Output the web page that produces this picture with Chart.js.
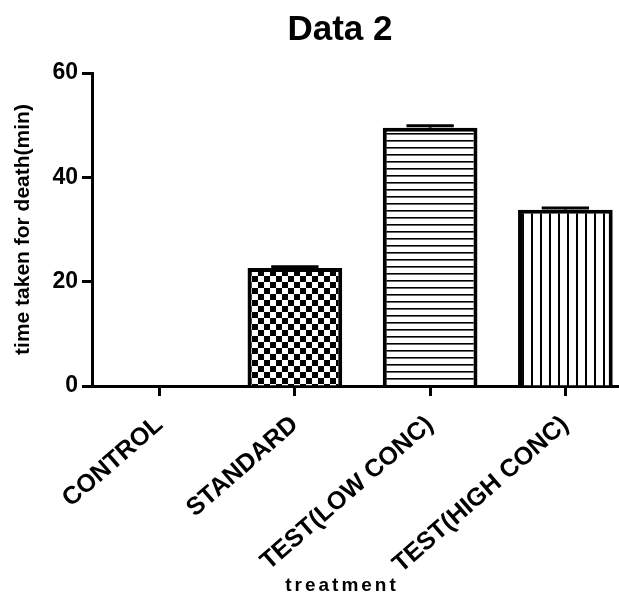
<!DOCTYPE html>
<html>
<head>
<meta charset="utf-8">
<script src="https://cdn.jsdelivr.net/npm/chart.js@4.4.1/dist/chart.umd.min.js"></script>
<style>
  html, body { margin: 0; padding: 0; background: #fff; overflow: hidden; }
  /* the plot runs past the right edge in the original, so the canvas is wider than the frame */
  #wrap { width: 619px; height: 600px; overflow: hidden; }
</style>
</head>
<body>
<div id="wrap"><canvas id="bar-chart" width="633" height="600"></canvas></div>
<script>
// values
var categories = ["CONTROL", "STANDARD", "TEST(LOW CONC)", "TEST(HIGH CONC)"];
var timeToDeath = [0, 22.6, 49.5, 33.8];
var errors = [0, 0.25, 0.4, 0.3];
var yTicks = [0, 20, 40, 60];
var chartTitle = "Data 2";
var xTitle = "treatment";
var yTitle = "time taken for death(min)";

var FONT = '"Liberation Sans", Arial, sans-serif';

function makePattern(kind) {
  var c = document.createElement('canvas');
  var g = c.getContext('2d');
  if (kind == 'check') {
    c.width = 12; c.height = 12;
    g.fillStyle = '#fff'; g.fillRect(0, 0, 12, 12);
    g.fillStyle = '#000'; g.fillRect(0, 0, 6, 6); g.fillRect(6, 6, 6, 6);
  } else if (kind == 'hlines') {
    c.width = 4; c.height = 7;
    g.fillStyle = '#fff'; g.fillRect(0, 0, 4, 7);
    g.fillStyle = '#000'; g.fillRect(0, 0, 4, 1.6);
  } else {
    c.width = 9; c.height = 4;
    g.fillStyle = '#fff'; g.fillRect(0, 0, 9, 4);
    g.fillStyle = '#000'; g.fillRect(0, 0, 2, 4);
  }
  return g.createPattern(c, 'repeat');
}

var fills = ['#fff', makePattern('check'), makePattern('hlines'), makePattern('vlines')];

// error bars, upper half only, with a cap
var errorBars = {
  id: 'errorBars',
  afterDatasetsDraw: function(chart) {
    var ctx = chart.ctx;
    var y = chart.scales.y;
    var meta = chart.getDatasetMeta(0);
    ctx.save();
    ctx.strokeStyle = '#000';
    ctx.lineWidth = 3;
    meta.data.forEach(function(bar, i) {
      if (!errors[i]) return;
      var top = y.getPixelForValue(timeToDeath[i] + errors[i]);
      var half = bar.width * 0.25;
      ctx.beginPath();
      ctx.moveTo(bar.x, bar.y);
      ctx.lineTo(bar.x, top);
      ctx.moveTo(bar.x - half, top);
      ctx.lineTo(bar.x + half, top);
      ctx.stroke();
    });
    ctx.restore();
  }
};

// chart title and x title (centred like the original, with wide letter spacing)
var titles = {
  id: 'titles',
  afterDraw: function(chart) {
    var ctx = chart.ctx;
    ctx.save();
    ctx.fillStyle = '#000';
    ctx.textAlign = 'center';
    ctx.textBaseline = 'alphabetic';
    ctx.font = 'bold 35px ' + FONT;
    ctx.fillText(chartTitle, 340, 40);
    ctx.font = 'bold 19px ' + FONT;
    if ('letterSpacing' in ctx) ctx.letterSpacing = '3px';
    ctx.fillText(xTitle, 342, 591);
    ctx.restore();
  }
};

new Chart(document.getElementById("bar-chart"), {
  type: 'bar',
  data: {
    labels: categories,
    datasets: [{
      data: timeToDeath,
      backgroundColor: fills,
      borderColor: '#000',
      borderWidth: 4,
      borderSkipped: 'start',
      categoryPercentage: 1.0,
      barPercentage: 0.7
    }]
  },
  options: {
    responsive: false,
    animation: false,
    layout: { padding: { top: 73, right: 0, left: 0, bottom: 0 } },
    plugins: {
      legend: { display: false },
      tooltip: { enabled: false }
    },
    scales: {
      x: {
        offset: true,
        z: 1,
        grid: { offset: false, drawOnChartArea: false, drawTicks: true, tickLength: 10, tickWidth: 3, tickColor: '#000' },
        border: { display: true, width: 3, color: '#000' },
        ticks: {
          color: '#000',
          font: { family: FONT, size: 25, weight: 'bold' },
          minRotation: 41,
          maxRotation: 41,
          padding: 14
        },
        afterFit: function(scale) {
          scale.height = 214;
          scale.paddingLeft = 0;
          scale.paddingRight = 0;
        }
      },
      y: {
        min: yTicks[0],
        max: yTicks[yTicks.length - 1],
        afterBuildTicks: function(scale) {
          scale.ticks = yTicks.map(function(v) { return { value: v }; });
        },
        grid: { drawOnChartArea: false, drawTicks: true, tickLength: 10, tickWidth: 3, tickColor: '#000' },
        border: { display: true, width: 3, color: '#000' },
        ticks: {
          color: '#000',
          font: { family: FONT, size: 23, weight: 'bold' },
          padding: 4
        },
        title: {
          display: true,
          text: yTitle,
          color: '#000',
          font: { family: FONT, size: 21, weight: 'bold' },
          padding: { top: 11, bottom: 0 }
        },
        afterFit: function(scale) {
          scale.width = 92;
          scale.paddingTop = 0;
          scale.paddingBottom = 0;
        }
      }
    }
  },
  plugins: [errorBars, titles]
});
</script>
</body>
</html>
